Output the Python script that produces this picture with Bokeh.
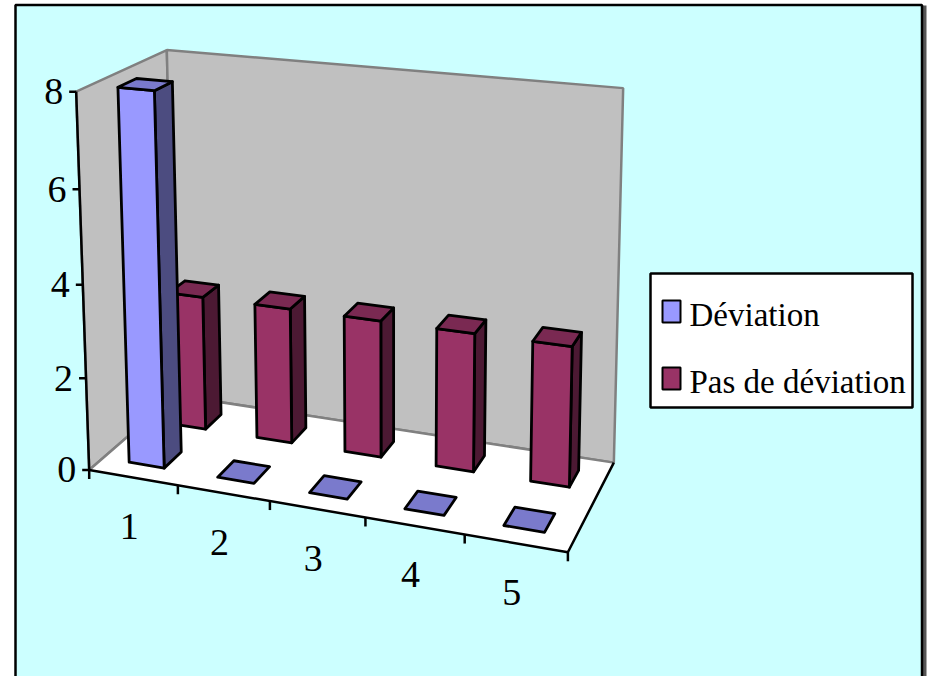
import numpy as np
from bokeh.plotting import figure
from bokeh.models import Range1d
from bokeh.embed import file_html
from bokeh.resources import INLINE
from bokeh.core.properties import value

# ---------------- data ----------------
categories = ["1", "2", "3", "4", "5"]
series_names = ["Déviation", "Pas de déviation"]
deviation = [8, 0, 0, 0, 0]
pas_de_deviation = [3, 3, 3, 3, 3]
value_ticks = [0, 2, 4, 6, 8]
value_max = 8

# ---------------- styles ----------------
front_colors = ["#9999FF", "#993366"]
top_colors = ["#7A7ACC", "#7A2952"]
side_colors = ["#4C4C80", "#4C1933"]
wall_fill = "#C0C0C0"
wall_edge = "#808080"
chart_bg = "#CCFFFF"
FONT = "'Times New Roman', 'Liberation Serif', 'DejaVu Serif', serif"

# ---------------- 3D camera (layout anchors of the plot box) ----------------
# world: X along categories (0..5), Y value (0..8), Z depth rows (0..2)
anchor_world = [(0, 0, 0), (1, 0, 0), (2, 0, 0), (3, 0, 0), (4, 0, 0), (5, 0, 0),
                (5, 0, 2), (0, 0, 2), (0, 8, 0), (0, 8, 2), (5, 8, 2),
                (0, 2, 0), (0, 4, 0), (0, 6, 0)]
anchor_screen = [(88, 468), (177, 483.6), (270, 500), (367, 517), (463, 534), (568, 552),
                 (613, 463), (175, 395), (76, 91), (167, 49), (622, 87),
                 (84.8, 379), (81.9, 286), (79, 189)]

Wa = np.array(anchor_world, float)
Sa = np.array(anchor_screen, float)
m = Sa.mean(0)
sc = Sa.std()
Sn = (Sa - m) / sc
rows = []
for (X, Y, Z), (u, v) in zip(Wa, Sn):
    rows.append([X, Y, Z, 1, 0, 0, 0, 0, -u * X, -u * Y, -u * Z, -u])
    rows.append([0, 0, 0, 0, X, Y, Z, 1, -v * X, -v * Y, -v * Z, -v])
_, _, Vt = np.linalg.svd(np.array(rows))
P = Vt[-1].reshape(3, 4)


def proj(X, Y, Z):
    h = P @ np.array([X, Y, Z, 1.0])
    return h[0] / h[2] * sc + m[0], h[1] / h[2] * sc + m[1]


def poly(pts):
    xy = [proj(*q) for q in pts]
    return [a for a, _ in xy], [b for _, b in xy]


n_cat = len(categories)
n_ser = len(series_names)

W, H = 928, 676
p = figure(width=W, height=H, output_backend="svg", toolbar_location=None,
           x_range=Range1d(0, W), y_range=Range1d(H, 0),
           x_axis_location=None, y_axis_location=None, min_border=0)
p.grid.visible = False
p.outline_line_color = None
p.background_fill_color = "white"
p.border_fill_color = "white"

# chart area background with border and right shadow
p.quad(left=[922], right=[926], top=[5], bottom=[H + 5], fill_color="#555555", line_color=None)
p.quad(left=[15], right=[921.5], top=[4.5], bottom=[H + 10], fill_color=chart_bg,
       line_color="black", line_width=2.5)

# walls and floor
lw_x, lw_y = poly([(0, 0, 0), (0, 0, n_ser), (0, value_max, n_ser), (0, value_max, 0)])
bw_x, bw_y = poly([(0, 0, n_ser), (n_cat, 0, n_ser), (n_cat, value_max, n_ser), (0, value_max, n_ser)])
fl_x, fl_y = poly([(0, 0, 0), (n_cat, 0, 0), (n_cat, 0, n_ser), (0, 0, n_ser)])
p.patches([lw_x, bw_x], [lw_y, bw_y], fill_color=wall_fill, line_color=wall_edge, line_width=2.5)
p.patch(fl_x, fl_y, fill_color="white", line_color=None)
# floor back edges (gray)
bx, by = poly([(0, 0, 0), (0, 0, n_ser), (n_cat, 0, n_ser)])
p.line(bx, by, line_color=wall_edge, line_width=2.5)
# category axis (front + right edge of floor)
ax_x, ax_y = poly([(0, 0, 0), (n_cat, 0, 0), (n_cat, 0, n_ser)])
p.line(ax_x, ax_y, line_color="black", line_width=2.5)
# value axis
vx, vy = poly([(0, 0, 0), (0, value_max, 0)])
p.line(vx, vy, line_color="black", line_width=2.5)

# value ticks and labels
for t in value_ticks:
    x0, y0 = proj(0, t, 0)
    p.segment(x0=[x0 - 7], y0=[y0], x1=[x0], y1=[y0], line_color="black", line_width=2.5)
    p.text(x=[x0 - 13], y=[y0], text=[str(t)], text_align="right", text_baseline="middle",
           text_font=value(FONT), text_font_size="38px", text_color="black")

# category ticks and labels
for i in range(n_cat + 1):
    x0, y0 = proj(i, 0, 0)
    p.segment(x0=[x0], y0=[y0], x1=[x0], y1=[y0 + 9], line_color="black", line_width=2.5)
for i, c in enumerate(categories):
    x0, y0 = proj(i + 0.5, 0, 0)
    p.text(x=[x0 - 4], y=[y0 + 49], text=[c], text_align="center", text_baseline="middle",
           text_font=value(FONT), text_font_size="38px", text_color="black")

# bars (back row first, left to right)
series_values = [deviation, pas_de_deviation]
gap = 0.3
for s in reversed(range(n_ser)):
    vals = series_values[s]
    for i in range(n_cat):
        v = vals[i]
        x0, x1 = i + gap, i + 1 - gap
        z0, z1 = s + gap, s + 1 - gap
        xs, ys, cols = [], [], []
        if v > 0:
            a, b = poly([(x1, 0, z0), (x1, 0, z1), (x1, v, z1), (x1, v, z0)])
            xs.append(a); ys.append(b); cols.append(side_colors[s])
            a, b = poly([(x0, 0, z0), (x1, 0, z0), (x1, v, z0), (x0, v, z0)])
            xs.append(a); ys.append(b); cols.append(front_colors[s])
        a, b = poly([(x0, v, z0), (x1, v, z0), (x1, v, z1), (x0, v, z1)])
        xs.append(a); ys.append(b); cols.append(top_colors[s])
        p.patches(xs, ys, fill_color=cols, line_color="black", line_width=2.8, line_join="round")

# legend
p.quad(left=[650], right=[912], top=[273], bottom=[407], fill_color="white",
       line_color="black", line_width=2.5)
leg_y = [312, 379]
for s in range(n_ser):
    p.quad(left=[662], right=[680], top=[leg_y[s] - 12], bottom=[leg_y[s] + 10],
           fill_color=front_colors[s], line_color="black", line_width=2)
    p.text(x=[689], y=[leg_y[s] + 2], text=[series_names[s]], text_align="left",
           text_baseline="middle", text_font=value(FONT), text_font_size="33px",
           text_color="black")

open("out.html", "w").write(file_html(p, INLINE))
